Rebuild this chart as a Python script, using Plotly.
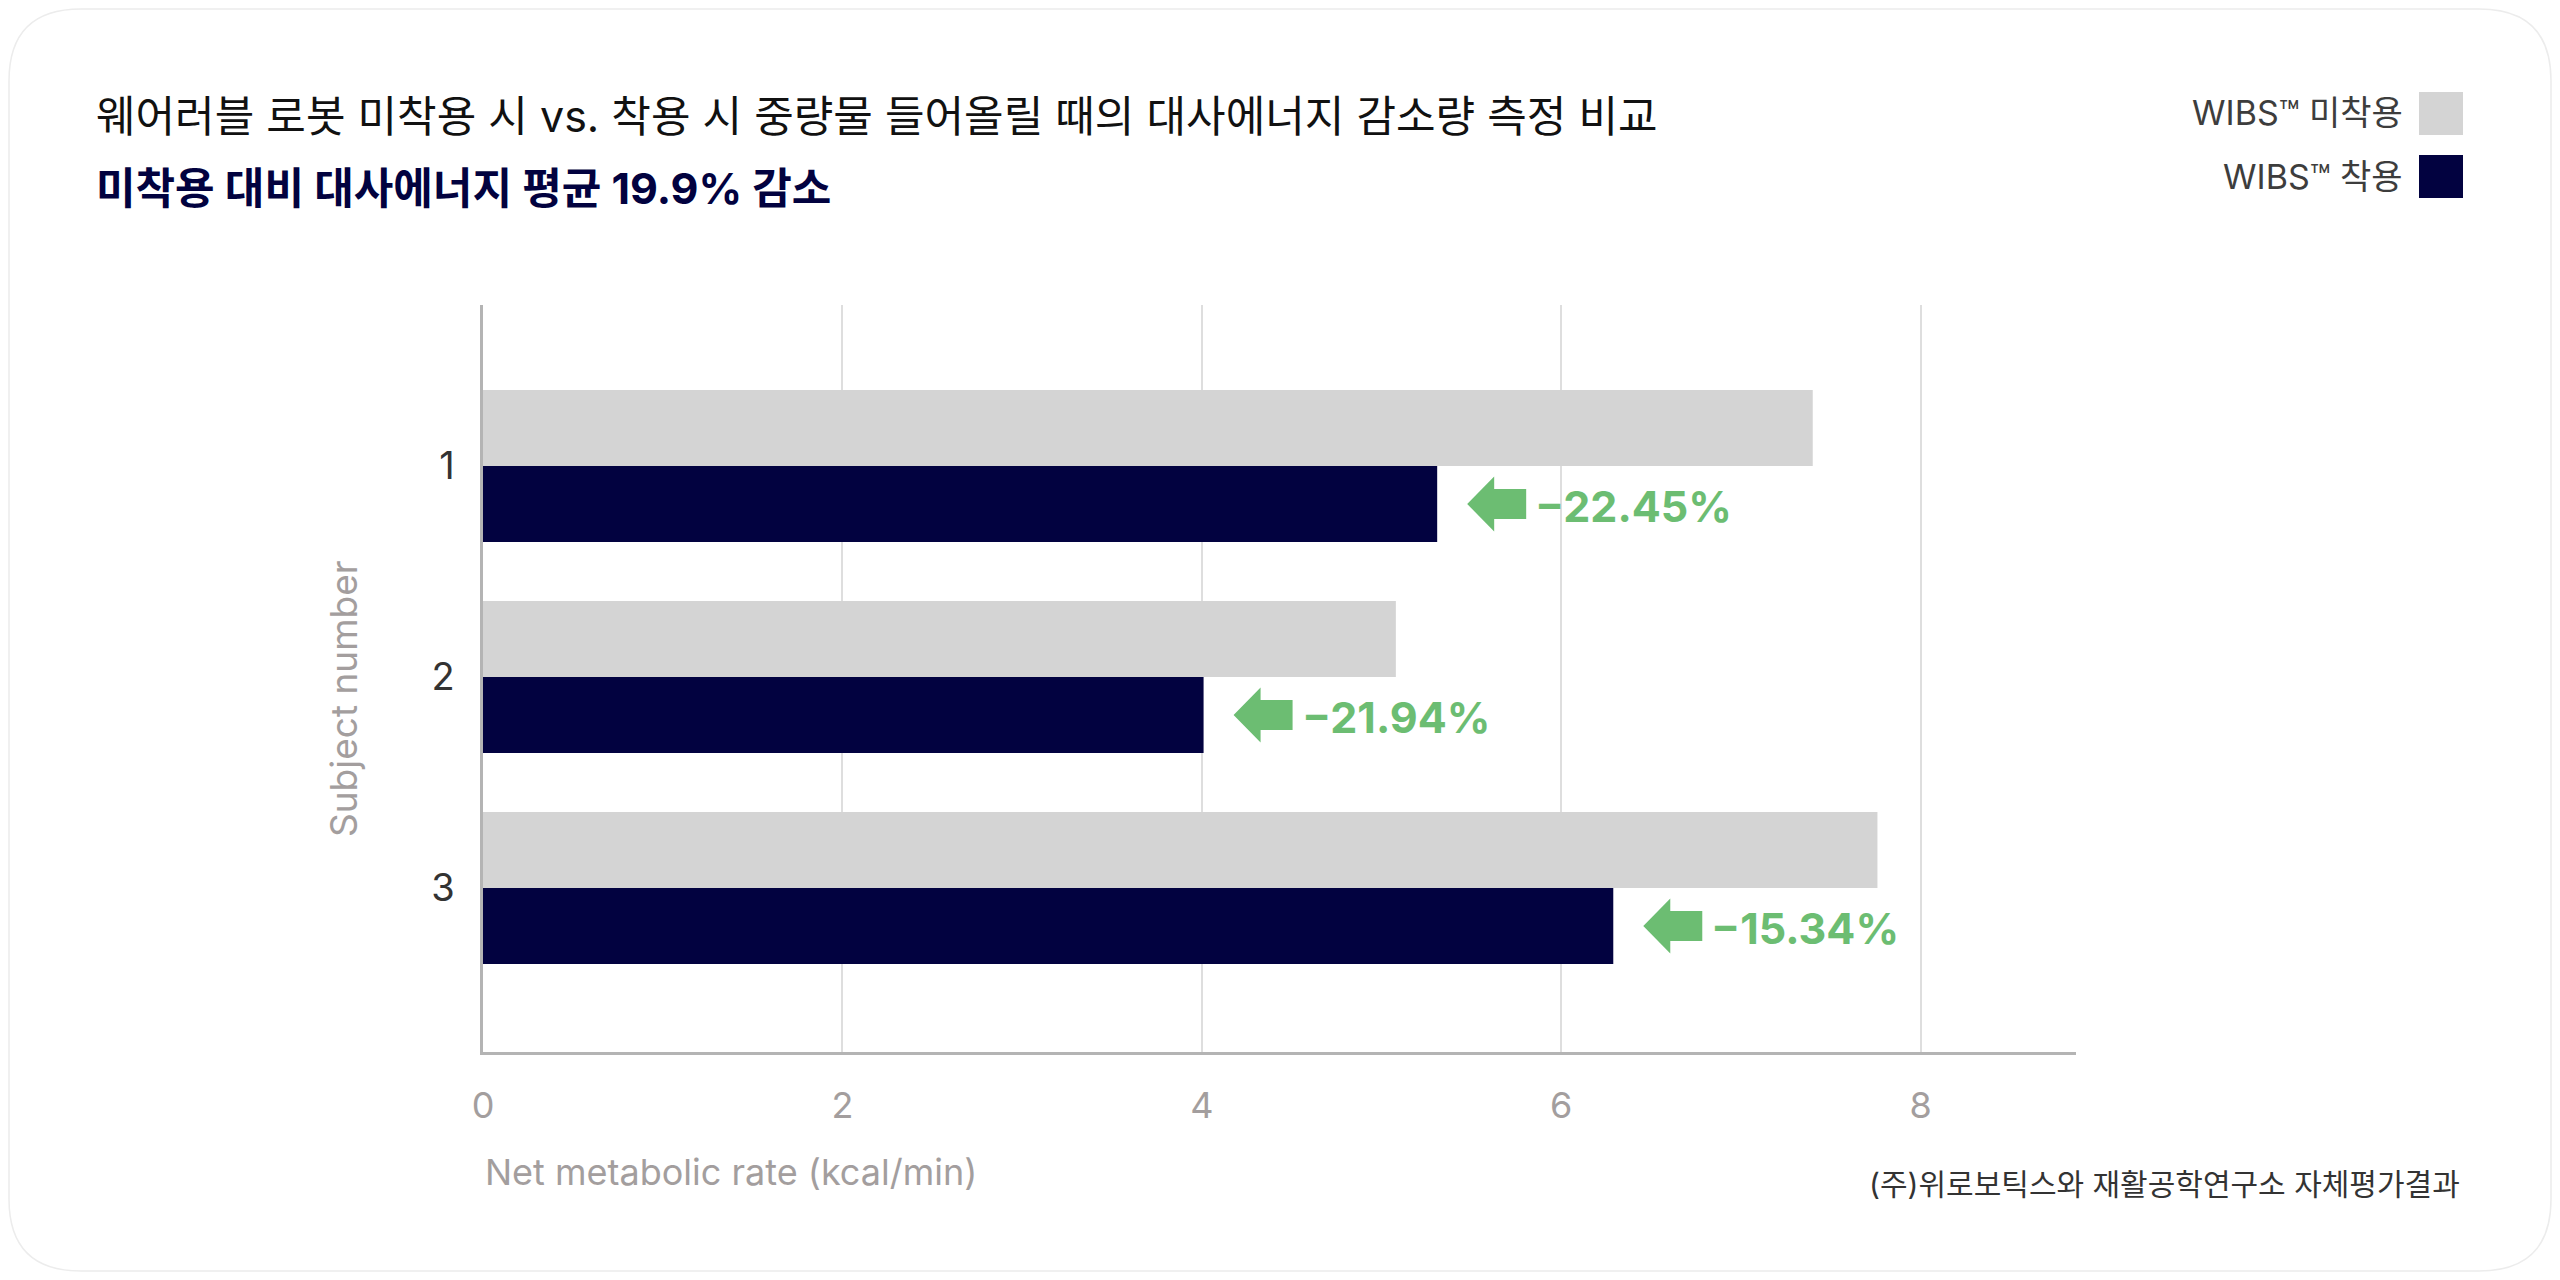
import plotly.graph_objects as go

# data
subjects = [1, 2, 3]
without_wibs = [7.40, 5.08, 7.76]   # WIBS(TM) 미착용
with_wibs = [5.31, 4.01, 6.29]      # WIBS(TM) 착용
reduction_labels = ["−22.45%", "−21.94%", "−15.34%"]

series_names = ["WIBS™ 미착용", "WIBS™ 착용"]
x_ticks = [0, 2, 4, 6, 8]

title_text = "웨어러블 로봇 미착용 시 vs. 착용 시 중량물 들어올릴 때의 대사에너지 감소량 측정 비교"
subtitle_text = "미착용 대비 대사에너지 평균 19.9% 감소"
x_title = "Net metabolic rate (kcal/min)"
y_title = "Subject number"
source_text = "(주)위로보틱스와 재활공학연구소 자체평가결과"

GRAY = "#d4d4d4"
NAVY = "#020240"
GREEN = "#6cbd72"
FONT = "Inter, 'Noto Sans CJK KR', sans-serif"

# the page body has an 8px margin, so the figure is a bit smaller and
# all positions below are page pixels shifted by that margin
PAGE_MARGIN = 8
W, H = 2560 - 2 * PAGE_MARGIN, 1280 - 2 * PAGE_MARGIN
ML, MT = 483 - PAGE_MARGIN, 305 - PAGE_MARGIN
PW, PH = 2076 - 483, 1052 - 305
MR, MB = W - ML - PW, H - MT - PH


def px(xp):
    return (xp - PAGE_MARGIN - ML) / PW


def py(yp):
    return (MT + PH - (yp - PAGE_MARGIN)) / PH


BAR_GAP = 0.28
bar_w = (1 - BAR_GAP) / 2

fig = go.Figure()
fig.add_trace(go.Bar(y=subjects, x=without_wibs, orientation="h", name=series_names[0],
                     marker=dict(color=GRAY, line=dict(width=0))))
fig.add_trace(go.Bar(y=subjects, x=with_wibs, orientation="h", name=series_names[1],
                     marker=dict(color=NAVY, line=dict(width=0))))

# arrows + reduction labels next to the "착용" bars
arrow_path = "M30,0 L57,27.5 L57,15 L89,15 L89,-15 L57,-15 L57,-27.5 Z"
for s, v, lab in zip(subjects, with_wibs, reduction_labels):
    yc = s + bar_w / 2
    fig.add_shape(type="path", xref="x", yref="y", xsizemode="pixel", ysizemode="pixel",
                  xanchor=v, yanchor=yc, path=arrow_path,
                  fillcolor=GREEN, line=dict(width=0))
    fig.add_annotation(x=v, y=yc, xref="x", yref="y", text=lab, showarrow=False,
                       xanchor="left", yanchor="middle", xshift=96, yshift=-2,
                       font=dict(family=FONT, size=43, color=GREEN, weight="bold"))

# titles
fig.add_annotation(x=px(94), y=py(116), xref="paper", yref="paper", text=title_text,
                   showarrow=False, xanchor="left", yanchor="middle",
                   font=dict(family=FONT, size=43, color="#111111"))
fig.add_annotation(x=px(94), y=py(188), xref="paper", yref="paper", text="<b>" + subtitle_text + "</b>",
                   showarrow=False, xanchor="left", yanchor="middle",
                   font=dict(family=FONT, size=43, color="#02023f"))

# legend drawn by hand (swatch on the right of the text)
for i, (name, col) in enumerate(zip(series_names, [GRAY, NAVY])):
    top = 92 + i * 63
    fig.add_shape(type="rect", xref="paper", yref="paper",
                  x0=px(2419), x1=px(2463), y0=py(top), y1=py(top + 43),
                  fillcolor=col, line=dict(width=0))
    fig.add_annotation(x=px(2405), y=py(top + 21), xref="paper", yref="paper", text=name,
                       showarrow=False, xanchor="right", yanchor="middle",
                       font=dict(family=FONT, size=34, color="#3d3d3d"))

# axis titles
fig.add_annotation(x=0, y=py(1172), xref="x domain", yref="paper", text=x_title,
                   showarrow=False, xanchor="left", yanchor="middle",
                   font=dict(family=FONT, size=36, color="#a39e9e"))
fig.add_annotation(x=px(343), y=py(699), xref="paper", yref="paper", text=y_title,
                   showarrow=False, textangle=-90, xanchor="center", yanchor="middle",
                   font=dict(family=FONT, size=37, color="#a39e9e"))

# source note
fig.add_annotation(x=px(2462), y=py(1184), xref="paper", yref="paper", text=source_text,
                   showarrow=False, xanchor="right", yanchor="middle",
                   font=dict(family=FONT, size=30, color="#333333"))

# faint rounded card border
r = 72
x0, x1, y0, y1 = PAGE_MARGIN + 1, PAGE_MARGIN + W - 1, PAGE_MARGIN + 1, PAGE_MARGIN + H - 1
card = (f"M{px(x0 + r)},{py(y0)} L{px(x1 - r)},{py(y0)} Q{px(x1)},{py(y0)} {px(x1)},{py(y0 + r)} "
        f"L{px(x1)},{py(y1 - r)} Q{px(x1)},{py(y1)} {px(x1 - r)},{py(y1)} "
        f"L{px(x0 + r)},{py(y1)} Q{px(x0)},{py(y1)} {px(x0)},{py(y1 - r)} "
        f"L{px(x0)},{py(y0 + r)} Q{px(x0)},{py(y0)} {px(x0 + r)},{py(y0)} Z")
fig.add_shape(type="path", xref="paper", yref="paper", path=card,
              line=dict(color="#ececec", width=1.5), layer="below")

fig.update_layout(
    width=W, height=H,
    margin=dict(l=ML, r=MR, t=MT, b=MB, autoexpand=False),
    paper_bgcolor="white", plot_bgcolor="white",
    barmode="group", bargap=BAR_GAP, bargroupgap=0,
    showlegend=False,
    font=dict(family=FONT),
    xaxis=dict(range=[0, 8.865], tickvals=x_ticks, showgrid=True, gridcolor="#dedede", gridwidth=1.5,
               zeroline=False, showline=True, linecolor="#b4b4b4", linewidth=2.5,
               ticks="", ticklabelstandoff=20,
               tickfont=dict(family=FONT, size=36, color="#a39e9e")),
    yaxis=dict(range=[3.777, 0.237], tickvals=subjects, showgrid=False, zeroline=False,
               showline=True, linecolor="#b4b4b4", linewidth=2.5, ticks="",
               ticklabelstandoff=18,
               tickfont=dict(family=FONT, size=38, color="#333333")),
)

fig.write_html("out.html")
